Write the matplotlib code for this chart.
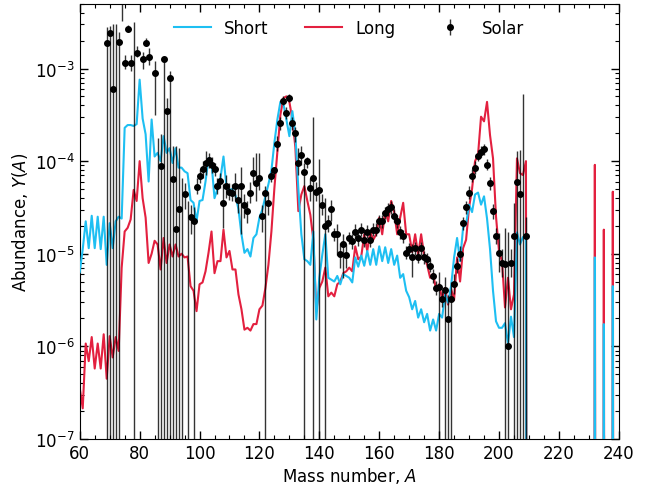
import numpy as np
import matplotlib
matplotlib.use("Agg")
import matplotlib.pyplot as plt

# abundances, stored as log10(Y)
mass = np.arange(60, 241)

short_log = [
    -5.20, -4.95, -4.65, -4.94, -4.59, -4.94, -4.60, -4.95, -4.60, -5.12,   # 60-69
    -4.67, -4.94, -4.65, -4.60, -4.62, -3.64, -3.61, -3.61, -3.62, -3.60,   # 70-79
    -3.12, -3.54, -3.71, -4.22, -3.55, -3.95, -3.91, -4.00, -3.73, -3.91,   # 80-89
    -3.86, -4.02, -3.86, -4.07, -4.07, -4.11, -4.13, -4.42, -4.45, -4.65,   # 90-99
    -4.43, -4.42, -4.22, -3.97, -4.02, -4.40, -4.30, -4.18, -3.95, -4.28,   # 100-109
    -4.31, -4.30, -4.37, -4.52, -4.79, -4.99, -4.95, -5.03, -4.83, -4.79,   # 110-119
    -4.61, -4.52, -4.38, -4.25, -4.10, -3.80, -3.55, -3.36, -3.38, -3.55,   # 120-129
    -3.73, -3.46, -3.71, -4.30, -4.79, -5.06, -5.08, -5.12, -4.76, -5.71,   # 130-139
    -5.26, -5.01, -4.79, -5.26, -5.28, -5.30, -5.24, -5.33, -5.22, -5.24,   # 140-149
    -5.26, -5.31, -5.04, -5.14, -5.02, -5.13, -4.97, -5.12, -4.95, -5.12,   # 150-159
    -4.92, -5.08, -4.93, -5.10, -4.95, -5.12, -5.02, -5.26, -5.22, -5.40,   # 160-169
    -5.47, -5.60, -5.51, -5.69, -5.60, -5.74, -5.65, -5.83, -5.71, -5.83,   # 170-179
    -5.65, -5.69, -5.44, -5.53, -5.35, -5.04, -4.83, -5.08, -4.72, -4.68,   # 180-189
    -4.47, -4.55, -4.36, -4.34, -4.47, -4.38, -4.62, -4.95, -5.40, -5.73,   # 190-199
    -5.80, -5.80, -5.75, -5.97, -5.68, -5.90, -4.77, -4.90, -4.82, -4.82,   # 200-209
    -30, -30, -30, -30, -30, -30, -30, -30, -30, -30,                       # 210-219
    -30, -30, -30, -30, -30, -30, -30, -30, -30, -30,                       # 220-229
    -30, -30, -5.04, -30, -30, -5.76, -30, -30, -5.35, -30,                 # 230-239
    -30,                                                                    # 240
]

long_log = [
    -6.45, -6.67, -5.97, -6.16, -5.90, -6.24, -5.97, -6.24, -5.87, -6.35,   # 60-69
    -5.89, -6.12, -5.90, -6.05, -5.15, -4.76, -4.72, -4.63, -4.31, -4.43,   # 70-79
    -4.00, -4.40, -4.61, -5.10, -5.00, -4.86, -4.90, -5.17, -4.83, -5.10,   # 80-89
    -4.90, -5.03, -4.90, -5.03, -5.00, -5.04, -5.03, -5.35, -5.40, -5.62,   # 90-99
    -5.33, -5.31, -5.19, -4.99, -4.76, -5.21, -5.08, -5.08, -4.74, -5.04,   # 100-109
    -4.97, -5.17, -5.17, -5.44, -5.60, -5.82, -5.80, -5.83, -5.76, -5.76,   # 110-119
    -5.60, -5.56, -5.37, -5.12, -4.76, -4.29, -3.89, -3.50, -3.32, -3.30,   # 120-129
    -3.36, -3.55, -3.85, -4.54, -4.36, -4.27, -4.43, -4.58, -4.85, -5.62,   # 130-139
    -5.37, -5.30, -5.15, -5.46, -5.42, -5.46, -5.33, -5.30, -5.21, -5.19,   # 140-149
    -5.15, -5.19, -4.92, -5.06, -5.03, -4.79, -4.97, -4.76, -4.85, -4.79,   # 150-159
    -4.61, -4.79, -4.54, -4.65, -4.43, -4.55, -4.79, -4.61, -4.45, -4.79,   # 160-169
    -4.79, -4.98, -4.79, -5.01, -4.79, -5.02, -5.12, -5.26, -5.22, -5.39,   # 170-179
    -5.33, -5.49, -5.37, -5.55, -5.38, -5.50, -5.04, -5.30, -4.94, -4.85,   # 180-189
    -4.50, -4.30, -4.00, -3.93, -3.52, -3.57, -3.36, -3.72, -3.97, -4.60,   # 190-199
    -4.97, -5.08, -5.58, -5.26, -5.60, -5.44, -3.97, -4.13, -4.15, -4.00,   # 200-209
    -30, -30, -30, -30, -30, -30, -30, -30, -30, -30,                       # 210-219
    -30, -30, -30, -30, -30, -30, -30, -30, -30, -30,                       # 220-229
    -30, -30, -4.04, -30, -30, -4.74, -30, -30, -4.33, -30,                 # 230-239
    -30,                                                                    # 240
]

# solar residuals: mass, log10(Y), log10 of upper and lower end of the bar
# (-9 = below the plotted range)
solar_A = [69, 70, 71, 72, 73, 74, 75, 76, 77, 78, 79, 81, 82, 83, 85, 86, 87, 88, 89, 90,
           91, 92, 93, 94, 95, 96, 97, 98, 99, 100, 101, 102, 103, 104, 105, 106, 107, 108,
           109, 110, 111, 112, 113, 114, 115, 116, 117, 118, 119, 120, 121, 122, 123, 124,
           125, 126, 127, 128, 129, 130, 131, 132, 133, 134, 135, 136, 137, 138, 139, 140,
           141, 142, 143, 144, 145, 146, 147, 148, 149, 150, 151, 152, 153, 154, 155, 156,
           157, 158, 159, 160, 161, 162, 163, 164, 165, 166, 167, 168, 169, 170, 171, 172,
           173, 174, 175, 176, 177, 178, 179, 180, 181, 182, 183, 184, 185, 186, 187, 188,
           189, 190, 191, 192, 193, 194, 195, 196, 197, 198, 199, 200, 201, 202, 203, 204,
           205, 206, 207, 208, 209]
solar_log = [-2.72, -2.62, -3.22, -9, -2.71, -2.20, -2.94, -2.57, -2.94, -9, -2.83, -2.90,
             -2.72, -2.87, -3.05, -9, -4.05, -2.90, -3.46, -3.10,
             -4.19, -4.73, -4.52, -9, -4.36, -9, -4.60, -4.65, -4.28, -4.16, -4.09, -4.02,
             -3.99, -4.04, -4.09, -4.27, -4.21, -4.45,
             -4.27, -4.33, -4.34, -4.27, -4.42, -4.27, -4.47, -4.54, -4.34, -4.13, -4.24,
             -4.18, -4.59, -4.34, -4.45, -4.16,
             -4.10, -3.82, -3.59, -3.35, -3.48, -3.32, -3.59, -3.70, -4.02, -3.93, -4.12,
             -4.00, -4.29, -4.18, -4.33, -4.31,
             -4.47, -4.70, -4.67, -4.52, -4.79, -4.79, -5.00, -4.89, -5.01, -4.83, -4.86,
             -4.76, -4.83, -4.74, -4.85, -4.76,
             -4.85, -4.74, -4.74, -4.65, -4.65, -4.56, -4.52, -4.50, -4.59, -4.65, -4.77,
             -4.81, -4.99, -4.95, -5.04, -4.94,
             -5.03, -4.94, -5.04, -5.06, -5.13, -5.24, -5.37, -5.36, -5.49, -5.39, -5.71,
             -5.49, -5.33, -5.13, -5.00, -4.67,
             -4.50, -4.34, -4.16, -4.07, -3.94, -3.90, -3.87, -4.04, -4.24, -4.54, -4.81,
             -4.99, -5.10, -5.11, -6.00, -5.10,
             -4.81, -4.22, -4.36, -9, -4.81]
solar_log_hi = [-2.55, -2.54, -2.52, -2.52, -2.60, -2.00, -2.85, -2.53, -2.85, -2.50, -2.76,
                -2.82, -2.67, -2.78, -2.92, -3.75, -3.71, -2.87, -3.32, -3.03,
                -3.84, -3.84, -3.86, -4.18, -4.24, -4.43, -4.47, -4.50, -4.18, -4.09, -4.00,
                -3.89, -3.91, -3.95, -4.02, -4.18, -4.13, -4.25,
                -4.15, -4.24, -4.25, -4.13, -4.25, -4.06, -4.36, -4.43, -4.22, -3.95, -3.91,
                -3.91, -4.47, -4.27, -4.33, -4.11,
                -4.06, -3.73, -3.52, -3.30, -3.41, -3.28, -3.52, -3.63, -3.86, -3.84, -4.02,
                -3.95, -4.18, -3.52, -4.22, -3.98,
                -4.36, -4.40, -4.58, -4.42, -4.72, -4.68, -4.88, -4.79, -4.90, -4.76, -4.79,
                -4.68, -4.76, -4.67, -4.77, -4.69,
                -4.78, -4.67, -4.67, -4.58, -4.58, -4.49, -4.45, -4.43, -4.52, -4.58, -4.70,
                -4.74, -4.92, -4.88, -4.90, -4.87,
                -4.96, -4.87, -4.97, -4.99, -5.06, -5.16, -5.29, -5.20, -5.40, -5.25, -5.45,
                -5.30, -5.22, -5.05, -4.92, -4.60,
                -4.43, -4.27, -4.09, -4.00, -3.88, -3.84, -3.81, -3.98, -4.17, -4.46, -4.72,
                -4.78, -4.95, -4.72, -4.76, -4.95,
                -4.45, -3.89, -3.88, -3.27, -4.60]
solar_log_lo = [-9, -9, -9, -9, -9, -2.49, -3.01, -2.61, -3.03, -9, -2.88, -3.00, -2.76,
                -2.96, -3.50, -9, -9, -9, -9, -9,
                -9, -9, -9, -9, -4.52, -9, -4.79, -9, -4.36, -4.24, -4.18, -4.15, -4.07,
                -4.13, -4.16, -4.36, -4.29, -4.72,
                -4.40, -4.42, -4.43, -4.43, -4.56, -4.79, -4.61, -4.67, -4.45, -4.24, -4.43,
                -4.31, -4.76, -9, -4.58, -4.22,
                -4.15, -3.89, -3.66, -3.39, -3.55, -3.36, -3.66, -3.79, -4.15, -4.04, -9,
                -4.07, -4.43, -9, -4.43, -9,
                -4.58, -9, -4.76, -4.65, -4.86, -5.01, -5.15, -5.26, -5.15, -4.90, -4.95,
                -4.83, -4.92, -4.81, -4.93, -4.83,
                -4.93, -4.81, -4.81, -4.72, -4.72, -4.63, -4.59, -4.57, -4.66, -4.72, -4.84,
                -4.88, -5.06, -5.02, -5.25, -5.01,
                -5.10, -5.01, -5.11, -5.13, -5.20, -5.32, -5.45, -9, -5.58, -9, -9,
                -9, -5.44, -5.21, -5.08, -4.74,
                -4.57, -4.41, -4.23, -4.14, -4.00, -3.96, -3.93, -4.10, -4.31, -4.62, -4.90,
                -5.20, -5.25, -9, -9, -5.25,
                -9, -9, -9, -9, -9]

short = 10.0 ** np.array(short_log)
long_ = 10.0 ** np.array(long_log)
sol_y = 10.0 ** np.array(solar_log)
sol_hi = 10.0 ** np.array(solar_log_hi)
sol_lo = 10.0 ** np.array(solar_log_lo)

fig = plt.figure(figsize=(6.59, 4.85), dpi=100)
ax = fig.add_axes([0.121, 0.093, 0.818, 0.897])

ax.plot(mass, short, color='#1EBFF2', lw=1.5, label='Short', zorder=3)
ax.plot(mass, long_, color='#E3203F', lw=1.5, label='Long', zorder=2)
ax.errorbar(solar_A, sol_y, yerr=[sol_y - sol_lo, sol_hi - sol_y], fmt='o', color='k',
            ms=4, ecolor=(0, 0, 0, 0.8), elinewidth=1.0, label='Solar', zorder=4)

ax.set_yscale('log')
ax.set_xlim(60, 240)
ax.set_ylim(1e-7, 5e-3)
ax.set_xticks(np.arange(60, 241, 20))
ax.xaxis.set_minor_locator(matplotlib.ticker.MultipleLocator(5))
ax.tick_params(which='both', direction='in', top=True, right=True, labelsize=12)
ax.tick_params(which='major', length=6, width=1)
ax.tick_params(which='minor', length=3, width=0.8)

ax.set_xlabel('Mass number, $A$', fontsize=12, labelpad=2)
ax.set_ylabel('Abundance, $Y(A)$', fontsize=12)

ax.legend(loc='upper center', ncol=3, frameon=False, fontsize=12,
          handlelength=2.2, columnspacing=2.2, handletextpad=0.8)

fig.savefig('out.png', dpi=100)
